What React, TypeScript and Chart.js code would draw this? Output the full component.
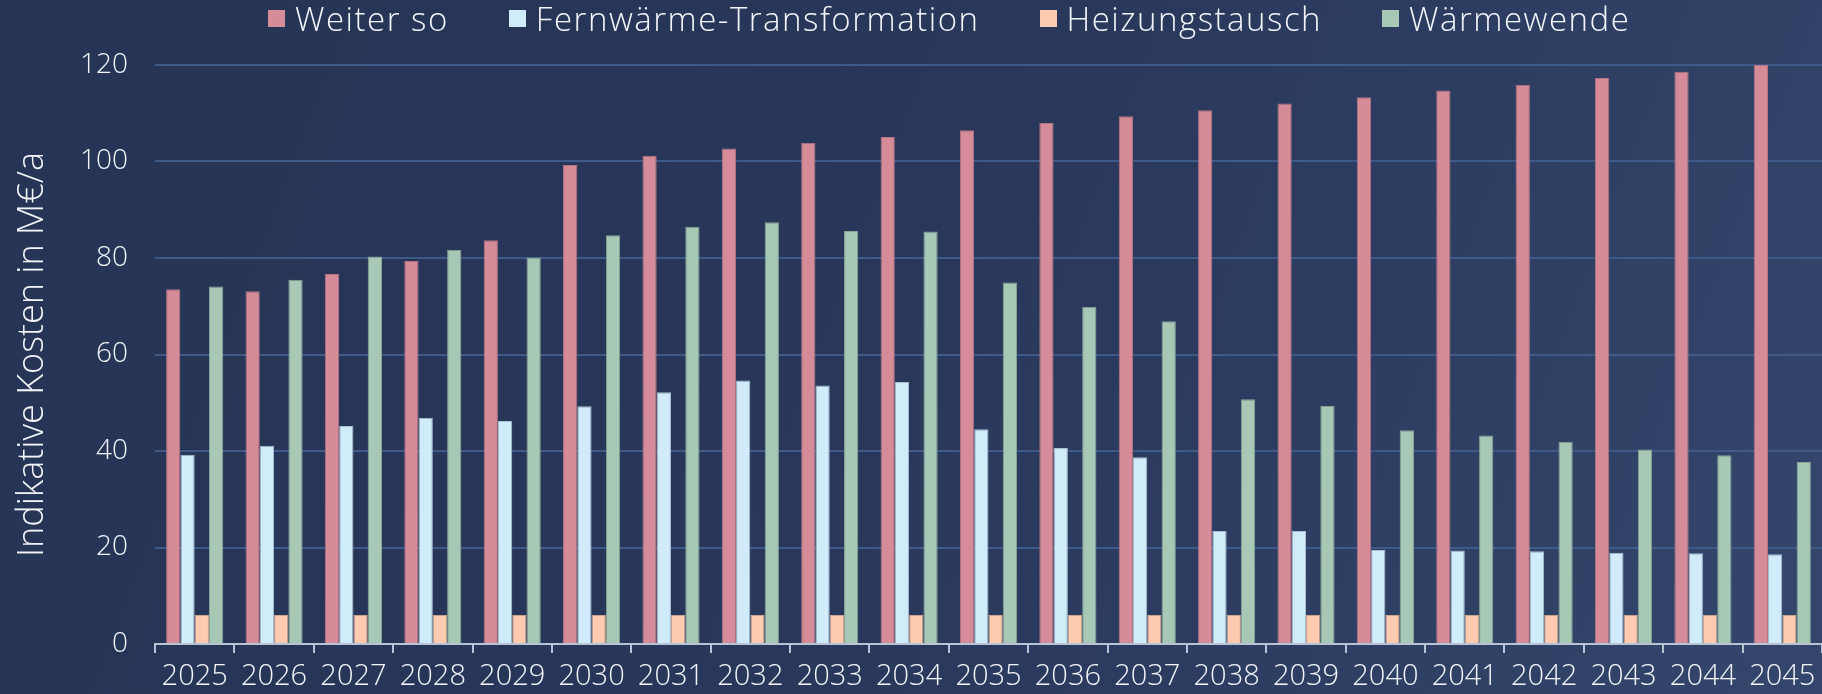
import React, { useEffect, useRef } from "react";
import { Chart, registerables } from "chart.js";

Chart.register(...registerables);

const years = [
  "2025", "2026", "2027", "2028", "2029", "2030", "2031", "2032", "2033", "2034", "2035",
  "2036", "2037", "2038", "2039", "2040", "2041", "2042", "2043", "2044", "2045",
];

const weiterSo = [
  73.5, 73.1, 76.7, 79.4, 83.7, 99.3, 101.2, 102.7, 103.9, 105.1, 106.5,
  108.0, 109.4, 110.6, 112.0, 113.3, 114.7, 115.9, 117.3, 118.6, 120.0,
];

const fernwaerme = [
  39.2, 41.1, 45.2, 46.9, 46.2, 49.3, 52.2, 54.6, 53.6, 54.3, 44.5,
  40.6, 38.7, 23.4, 23.4, 19.5, 19.4, 19.2, 18.9, 18.8, 18.6,
];

const heizungstausch = [
  6, 6, 6, 6, 6, 6, 6, 6, 6, 6, 6,
  6, 6, 6, 6, 6, 6, 6, 6, 6, 6,
];

const waermewende = [
  74.1, 75.5, 80.3, 81.7, 80.1, 84.7, 86.5, 87.4, 85.6, 85.5, 74.9,
  69.9, 66.9, 50.7, 49.4, 44.3, 43.2, 41.9, 40.3, 39.1, 37.7,
];

const seriesNames = ["Weiter so", "Fernwärme-Transformation", "Heizungstausch", "Wärmewende"];
const seriesValues = [weiterSo, fernwaerme, heizungstausch, waermewende];
const seriesColors = ["#d68b98", "#d0ebfa", "#ffcbb0", "#a8c8b6"];
const seriesBorders = ["#b47482", "#a9c0d2", "#c9a692", "#86a596"];

const yAxisTitle = "Indikative Kosten in M€/a";

const FONT = "'Open Sans', 'Noto Sans', sans-serif";
const TEXT = "#f2f4f8";

const backgroundPlugin = {
  id: "bgGradient",
  beforeDraw(chart: any) {
    const { ctx, width, height } = chart;
    const g = ctx.createLinearGradient(0, 0, width, height);
    g.addColorStop(0, "#263455");
    g.addColorStop(0.5, "#28375a");
    g.addColorStop(1, "#34466c");
    ctx.save();
    ctx.fillStyle = g;
    ctx.fillRect(0, 0, width, height);
    ctx.restore();
  },
};

export default function App() {
  const canvasRef = useRef<HTMLCanvasElement | null>(null);

  useEffect(() => {
    document.body.style.margin = "0";
    document.body.style.background = "#263455";
    const canvas = canvasRef.current;
    if (!canvas) return;
    const chart = new Chart(canvas, {
      type: "bar",
      data: {
        labels: years,
        datasets: seriesNames.map((name, i) => ({
          label: name,
          data: seriesValues[i],
          backgroundColor: seriesColors[i],
          borderColor: seriesBorders[i],
          borderWidth: 1,
          categoryPercentage: 0.72,
          barPercentage: 1.0,
        })),
      },
      options: {
        responsive: false,
        animation: false,
        layout: { padding: { top: 65, right: 0, left: 0, bottom: 0 } },
        plugins: {
          legend: { display: false },
          tooltip: { enabled: false },
        },
        scales: {
          x: {
            grid: {
              display: true,
              offset: true,
              drawOnChartArea: false,
              drawTicks: true,
              tickLength: 9,
              color: "#b8c3d6",
              lineWidth: 2,
            },
            border: { display: true, color: "#b8c3d6", width: 2 },
            ticks: {
              color: TEXT,
              font: { family: FONT, size: 29, weight: 300 },
              padding: 6,
              maxRotation: 0,
              autoSkip: false,
            },
            afterFit: (scale: any) => {
              scale.height = 50;
            },
          },
          y: {
            min: 0,
            max: 120,
            ticks: {
              stepSize: 20,
              color: TEXT,
              font: { family: FONT, size: 28, weight: 300 },
              padding: 27,
            },
            grid: {
              color: "#3d5a88",
              lineWidth: 2,
              drawTicks: false,
            },
            border: { display: false },
            title: {
              display: true,
              text: yAxisTitle,
              color: TEXT,
              font: { family: FONT, size: 36, weight: 300 },
              padding: { top: 11, bottom: 0 },
            },
            afterFit: (scale: any) => {
              scale.width = 155;
            },
          },
        },
      },
      plugins: [backgroundPlugin],
    });
    return () => chart.destroy();
  }, []);

  return (
    <div style={{ position: "relative", width: 1822, height: 694, overflow: "hidden" }}>
      <canvas ref={canvasRef} width={1822} height={694} style={{ display: "block" }} />
      <div
        style={{
          position: "absolute",
          top: 0,
          left: 268,
          height: 36,
          display: "flex",
          alignItems: "center",
          gap: 60,
          fontFamily: FONT,
          fontWeight: 300,
          fontSize: 33,
          letterSpacing: "1.5px",
          color: TEXT,
          whiteSpace: "nowrap",
        }}
      >
        {seriesNames.map((name, i) => (
          <div key={name} style={{ display: "flex", alignItems: "center" }}>
            <span
              style={{
                display: "inline-block",
                width: 17,
                height: 17,
                background: seriesColors[i],
                marginRight: 10,
              }}
            />
            <span>{name}</span>
          </div>
        ))}
      </div>
    </div>
  );
}
